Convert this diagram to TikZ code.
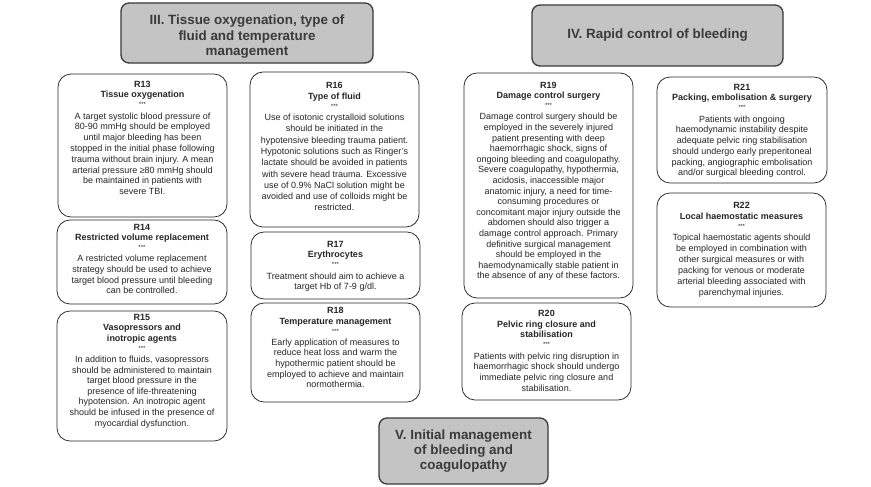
\documentclass[tikz,border=0pt]{standalone}
\usepackage{fontspec}
\setmainfont{Liberation Sans}
\definecolor{txt}{HTML}{262626}
\definecolor{hdrfill}{HTML}{C4C4C4}
\definecolor{hdrline}{HTML}{3A3A3A}
\tikzset{
  rbox/.style={draw=txt, line width=0.75pt, rounded corners=13pt, inner sep=0pt, text=txt},
  hdr/.style={draw=hdrline, fill=hdrfill, line width=1.3pt, rounded corners=8pt, inner sep=0pt,
    align=center, text=hdrline, font=\fontsize{13.4}{15.2}\selectfont\bfseries}
}
% name, x1, y1, x2, y2, first-baseline offset, line spacing, heading, body
\newcommand{\recbox}[9]{%
  \node[rbox] (#1) at ({(#2+#4)/2},{(#3+#5)/2})
  {\begin{minipage}[c][\dimexpr#5pt-#3pt\relax][t]{\dimexpr#4pt-#2pt\relax}%
    \centering\fontsize{9}{#7pt}\selectfont
    \rule{0pt}{#6pt}\bfseries #8\\[\dimexpr9pt-#7pt\relax]%
    {\mdseries\fontsize{6}{6}\selectfont ***}\\[\dimexpr12.2pt-#7pt\relax]%
    \mdseries #9\par
  \end{minipage}};}
\begin{document}
\begin{tikzpicture}[x=1pt,y=-1pt]
\useasboundingbox (0,0) rectangle (871,487);
\fill[white] (0,0) rectangle (871,487);

\node[hdr, minimum width=252pt, minimum height=60pt] (h3) at (247,33)
  {\rule{0pt}{17pt}III. Tissue oxygenation, type of\\fluid and temperature\\management};
\node[hdr, minimum width=251pt, minimum height=61pt] (h4) at (657.5,35.5)
  {IV. Rapid control of bleeding};
\node[hdr, minimum width=169pt, minimum height=66pt] (h5) at (463.5,451)
  {V. Initial management\\of bleeding and\\coagulopathy};

\recbox{r13}{58}{74}{227}{217}{13}{10.8}{R13\\Tissue oxygenation}
{A target systolic blood pressure of\\80-90 mmHg should be employed\\until major bleeding has been\\stopped in the initial phase following\\trauma without brain injury. A mean\\arterial pressure ≥80 mmHg should\\be maintained in patients with\\severe TBI.}

\recbox{r14}{57}{220}{227}{304}{10}{10.6}{R14\\Restricted volume replacement}
{A restricted volume replacement\\strategy should be used to achieve\\target blood pressure until bleeding\\can be controlled.}

\recbox{r15}{57}{311}{227}{441}{9}{10.6}{R15\\Vasopressors and\\inotropic agents}
{In addition to fluids, vasopressors\\should be administered to maintain\\target blood pressure in the\\presence of life-threatening\\hypotension. An inotropic agent\\should be infused in the presence of\\myocardial dysfunction.}

\recbox{r16}{250}{72}{419}{227}{16}{11.3}{R16\\Type of fluid}
{Use of isotonic crystalloid solutions\\should be initiated in the\\hypotensive bleeding trauma patient.\\Hypotonic solutions such as Ringer's\\lactate should be avoided in patients\\with severe head trauma. Excessive\\use of 0.9\% NaCl solution might be\\avoided and use of colloids might be\\restricted.}

\recbox{r17}{251}{232}{420}{299}{15}{10.8}{R17\\Erythrocytes}
{Treatment should aim to achieve a\\target Hb of 7-9 g/dl.}

\recbox{r18}{251}{303}{420}{402}{10.5}{10.6}{R18\\Temperature management}
{Early application of measures to\\reduce heat loss and warm the\\hypothermic patient should be\\employed to achieve and maintain\\normothermia.}

\recbox{r19}{464}{73}{633}{298}{15}{10.6}{R19\\Damage control surgery}
{Damage control surgery should be\\employed in the severely injured\\patient presenting with deep\\haemorrhagic shock, signs of\\ongoing bleeding and coagulopathy.\\Severe coagulopathy, hypothermia,\\acidosis, inaccessible major\\anatomic injury, a need for time-\\consuming procedures or\\concomitant major injury outside the\\abdomen should also trigger a\\damage control approach. Primary\\definitive surgical management\\should be employed in the\\haemodynamically stable patient in\\the absence of any of these factors.}

\recbox{r20}{462}{303}{631}{400}{13.5}{10.7}{R20\\Pelvic ring closure and\\stabilisation}
{Patients with pelvic ring disruption in\\haemorrhagic shock should undergo\\immediate pelvic ring closure and\\stabilisation.}

\recbox{r21}{657}{77}{827}{183}{13}{10.8}{R21\\Packing, embolisation \& surgery}
{Patients with ongoing\\haemodynamic instability despite\\adequate pelvic ring stabilisation\\should undergo early preperitoneal\\packing, angiographic embolisation\\and/or surgical bleeding control.}

\recbox{r22}{657}{193}{826}{307}{15.5}{11}{R22\\Local haemostatic measures}
{Topical haemostatic agents should\\be employed in combination with\\other surgical measures or with\\packing for venous or moderate\\arterial bleeding associated with\\parenchymal injuries.}
\end{tikzpicture}
\end{document}
